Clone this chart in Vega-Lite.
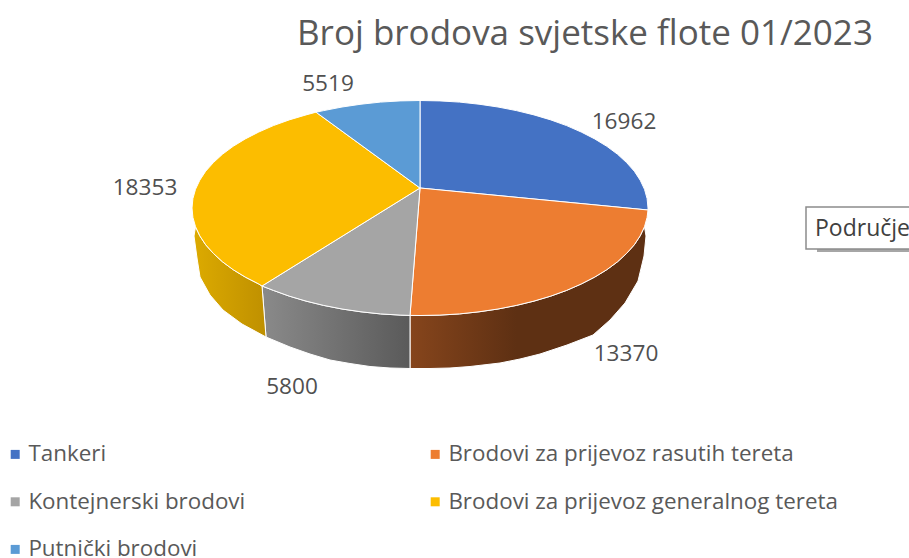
{
"$schema":"https://vega.github.io/schema/vega-lite/v6.json",
"width":909,"height":558,"autosize":"none","padding":0,
"background":"white",
"title":{"text":"Broj brodova svjetske flote 01/2023","anchor":"start","frame":"group","dx":297,"dy":52,"font":"Open Sans","fontSize":35,"fontWeight":"normal","color":"#595959","offset":0},
"view":{"stroke":null},
"projection":{"type":"identity","reflectY":true,"scale":1,"translate":[420,208]},
"datasets":{
"slices":[
{"category":"Tankeri","value":16962,"lon":204,"lat":86,"type":"Feature","geometry":{"type":"Polygon","coordinates":[[[0,20],[0,107.5],[19.9,107.1],[39.6,105.9],[59,103.8],[78,101],[96.4,97.4],[114,93.1],[130.8,88.1],[146.6,82.4],[161.2,76],[174.7,69.1],[186.8,61.7],[197.5,53.8],[206.6,45.4],[214.3,36.8],[220.2,27.8],[224.5,18.7],[227.1,9.4],[228,0],[228,-2],[0,20]]]}},
{"category":"Brodovi za prijevoz rasutih tereta","value":13370,"lon":206,"lat":-146,"type":"Feature","geometry":{"type":"Polygon","coordinates":[[[0,20],[228,-2],[227.1,-9.4],[224.5,-18.7],[220.2,-27.8],[214.3,-36.8],[206.6,-45.4],[197.5,-53.8],[186.8,-61.7],[174.7,-69.1],[161.2,-76],[146.6,-82.4],[130.8,-88.1],[114,-93.1],[96.4,-97.4],[78,-101],[59,-103.8],[39.6,-105.9],[19.9,-107.1],[0,-107.5],[-10,-107.4],[0,20]]]}},
{"category":"Kontejnerski brodovi","value":5800,"lon":-128,"lat":-179,"type":"Feature","geometry":{"type":"Polygon","coordinates":[[[0,20],[-10,-107.4],[-19.9,-107.1],[-39.6,-105.9],[-59,-103.8],[-78,-101],[-96.4,-97.4],[-114,-93.1],[-130.8,-88.1],[-146.6,-82.4],[-158,-78],[0,20]]]}},
{"category":"Brodovi za prijevoz generalnog tereta","value":18353,"lon":-275,"lat":20,"type":"Feature","geometry":{"type":"Polygon","coordinates":[[[0,20],[-158,-78],[-161.2,-76],[-174.7,-69.1],[-186.8,-61.7],[-197.5,-53.8],[-206.6,-45.4],[-214.3,-36.8],[-220.2,-27.8],[-224.5,-18.7],[-227.1,-9.4],[-228,0],[-227.1,9.4],[-224.5,18.7],[-220.2,27.8],[-214.3,36.8],[-206.6,45.4],[-197.5,53.8],[-186.8,61.7],[-174.7,69.1],[-161.2,76],[-146.6,82.4],[-130.8,88.1],[-114,93.1],[-104,95.8],[0,20]]]}},
{"category":"Putnički brodovi","value":5519,"lon":-92,"lat":124,"type":"Feature","geometry":{"type":"Polygon","coordinates":[[[0,20],[-104,95.8],[-96.4,97.4],[-78,101],[-59,103.8],[-39.6,105.9],[-19.9,107.1],[0,107.5],[0,20]]]}}
],
"walls":[
{"wall":"orange","type":"Feature","geometry":{"type":"Polygon","coordinates":[[[224.5,-18.7],[220.2,-27.8],[214.3,-36.8],[206.6,-45.4],[197.5,-53.8],[186.8,-61.7],[174.7,-69.1],[161.2,-76],[146.6,-82.4],[130.8,-88.1],[114,-93.1],[96.4,-97.4],[78,-101],[59,-103.8],[39.6,-105.9],[19.9,-107.1],[0,-107.5],[-10,-107.4],[-10,-160.5],[10,-160.5],[30,-160],[50,-158.5],[80,-155],[100,-151],[120,-146],[147,-137],[173,-127],[190,-112],[205,-95],[218,-73],[224,-48],[226,-28],[224.5,-18.7]]]}},
{"wall":"gray","type":"Feature","geometry":{"type":"Polygon","coordinates":[[[-10,-107.4],[-19.9,-107.1],[-39.6,-105.9],[-59,-103.8],[-78,-101],[-96.4,-97.4],[-114,-93.1],[-130.8,-88.1],[-146.6,-82.4],[-158,-78],[-154,-129],[-130,-139],[-110,-146],[-90,-152],[-70,-155.5],[-50,-158.5],[-30,-160],[-10,-160.5],[-10,-107.4]]]}},
{"wall":"yellow","type":"Feature","geometry":{"type":"Polygon","coordinates":[[[-158,-78],[-161.2,-76],[-174.7,-69.1],[-186.8,-61.7],[-197.5,-53.8],[-206.6,-45.4],[-214.3,-36.8],[-220.2,-27.8],[-224.5,-18.7],[-226,-28],[-223,-50],[-220,-69],[-210,-87],[-197,-102],[-178,-116],[-154,-129],[-158,-78]]]}}
],
"note":[
{"part":"shadow","type":"Feature","geometry":{"type":"Polygon","coordinates":[[[397,-38],[500,-38],[500,-44],[397,-44],[397,-38]]]}},
{"part":"box","type":"Feature","geometry":{"type":"Polygon","coordinates":[[[386,1],[500,1],[500,-41],[386,-41],[386,1]]]}}
],
"noteText":[{"name":"Područje","lon":395,"lat":-21}]
},
"layer":[
{"data":{"name":"walls"},"transform":[{"filter":"datum.wall==='orange'"}],"mark":{"type":"geoshape","clip":false,"stroke":"#ffffff","strokeWidth":1,"fill":{"gradient":"linear","x1":0,"y1":0,"x2":1,"y2":0,"stops":[{"offset":0,"color":"#86451c"},{"offset":0.45,"color":"#5e3013"},{"offset":1,"color":"#5e3013"}]}},"encoding":{}},
{"data":{"name":"walls"},"transform":[{"filter":"datum.wall==='gray'"}],"mark":{"type":"geoshape","stroke":"#ffffff","strokeWidth":1,"fill":{"gradient":"linear","x1":0,"y1":0,"x2":1,"y2":0,"stops":[{"offset":0,"color":"#8a8a8a"},{"offset":1,"color":"#5a5a5a"}]}},"encoding":{}},
{"data":{"name":"walls"},"transform":[{"filter":"datum.wall==='yellow'"}],"mark":{"type":"geoshape","stroke":"#ffffff","strokeWidth":1,"fill":{"gradient":"linear","x1":0,"y1":0,"x2":1,"y2":0,"stops":[{"offset":0,"color":"#dcaa00"},{"offset":1,"color":"#bf9000"}]}},"encoding":{}},
{"data":{"name":"slices"},"mark":{"type":"geoshape","stroke":"#ffffff","strokeWidth":1},"encoding":{"color":{"field":"category","type":"nominal","scale":{"domain":["Tankeri","Kontejnerski brodovi","Putnički brodovi","Brodovi za prijevoz rasutih tereta","Brodovi za prijevoz generalnog tereta"],"range":["#4472c4","#a5a5a5","#5b9bd5","#ed7d31","#fcbd00"]},"legend":{"title":null,"orient":"none","legendX":4,"legendY":443,"columns":2,"columnPadding":178,"rowPadding":24.6,"symbolType":"square","symbolSize":81,"symbolStrokeWidth":0,"labelFont":"Open Sans","labelFontSize":22.4,"labelColor":"#595959","labelOffset":2,"labelLimit":500}}}},
{"data":{"name":"slices"},"mark":{"type":"text","font":"Open Sans","fontSize":22.6,"color":"#505050","align":"center","baseline":"middle"},"encoding":{"longitude":{"field":"lon","type":"quantitative"},"latitude":{"field":"lat","type":"quantitative"},"text":{"field":"value","type":"quantitative","format":"d"}}},
{"data":{"name":"note"},"transform":[{"filter":"datum.part==='shadow'"}],"mark":{"type":"geoshape","fill":"#a6a6a6","stroke":null},"encoding":{}},
{"data":{"name":"note"},"transform":[{"filter":"datum.part==='box'"}],"mark":{"type":"geoshape","fill":"#ffffff","stroke":"#8c8c8c","strokeWidth":1.5},"encoding":{}},
{"data":{"name":"noteText"},"mark":{"type":"text","font":"Open Sans","fontSize":23,"color":"#404040","align":"left","baseline":"middle"},"encoding":{"longitude":{"field":"lon","type":"quantitative"},"latitude":{"field":"lat","type":"quantitative"},"text":{"field":"name","type":"nominal"}}}
]
}
